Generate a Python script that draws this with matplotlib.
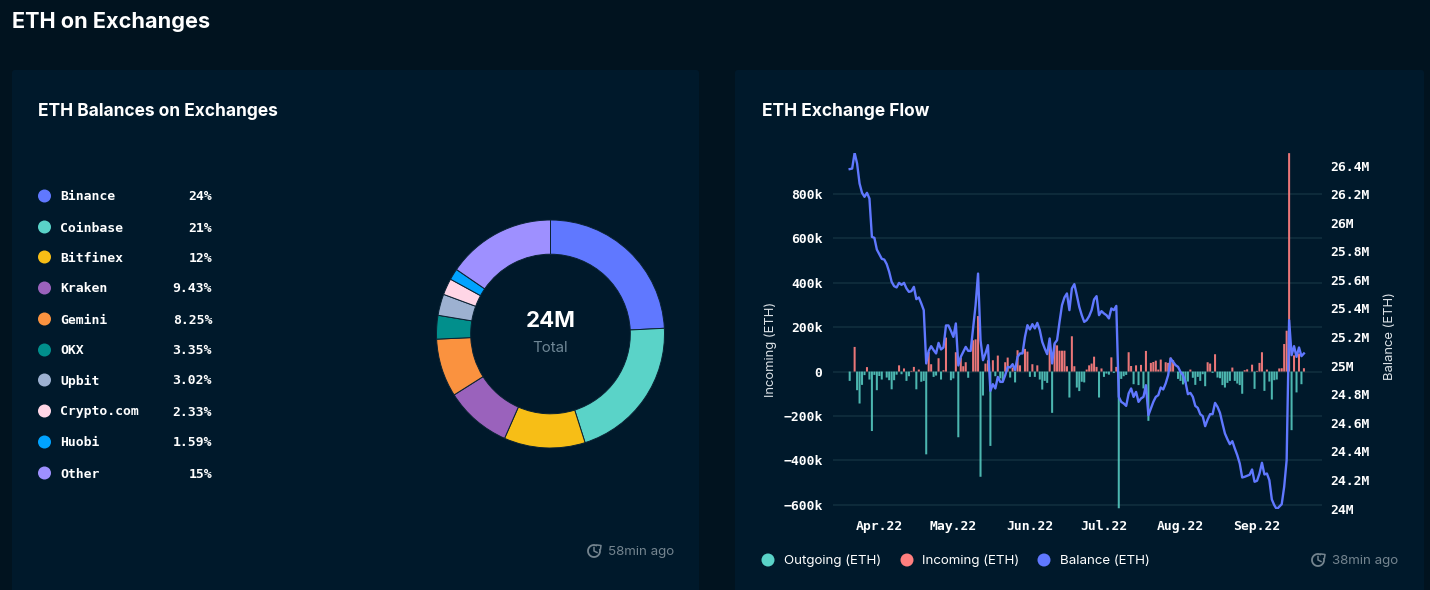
import numpy as np
import pandas as pd
import matplotlib
matplotlib.use("Agg")
import matplotlib.pyplot as plt
import matplotlib.dates as mdates
from matplotlib.patches import FancyBboxPatch, Arc, Circle

# ---------- data ----------
exchanges = ["Binance", "Coinbase", "Bitfinex", "Kraken", "Gemini", "OKX", "Upbit", "Crypto.com", "Huobi", "Other"]
shares = [24.2, 20.9, 11.5, 9.43, 8.25, 3.35, 3.02, 2.33, 1.59, 15.43]
share_labels = ["24%", "21%", "12%", "9.43%", "8.25%", "3.35%", "3.02%", "2.33%", "1.59%", "15%"]
share_colors = ["#6078FF", "#5AD3C8", "#F7BE16", "#9A62BC", "#FA923F", "#018F8C", "#9DB1D1", "#FFD6E6", "#00A3FF", "#9E90FF"]

balance = [
    26.375, 26.379, 26.489, 26.414, 26.274, 26.209, 26.181, 26.209, 26.169, 25.901,
    25.894, 25.812, 25.780, 25.747, 25.742, 25.710, 25.656, 25.586, 25.556, 25.547,
    25.579, 25.565, 25.579, 25.540, 25.516, 25.521, 25.551, 25.465, 25.477, 25.435,
    25.388, 25.015, 25.103, 25.136, 25.108, 25.085, 25.159, 25.113, 25.127, 25.281,
    25.281, 25.243, 25.201, 25.295, 25.001, 25.061, 25.096, 25.131, 25.103, 25.103,
    25.260, 25.423, 25.644, 25.178, 25.038, 25.085, 25.143, 24.823, 24.870, 24.840,
    24.921, 24.886, 24.886, 24.933, 24.991, 24.987, 25.010, 24.968, 25.061, 25.085,
    25.085, 25.201, 25.283, 25.253, 25.290, 25.260, 25.299, 25.248, 25.166, 25.120,
    25.080, 25.190, 25.015, 25.155, 25.178, 25.306, 25.423, 25.477, 25.505, 25.388,
    25.540, 25.570, 25.493, 25.411, 25.353, 25.306, 25.318, 25.346, 25.388, 25.463,
    25.486, 25.353, 25.381, 25.365, 25.353, 25.330, 25.400, 25.388, 25.418, 24.781,
    24.746, 24.735, 24.718, 24.805, 24.840, 24.781, 24.816, 24.746, 24.770, 24.781,
    24.863, 24.653, 24.700, 24.746, 24.781, 24.793, 24.847, 24.833, 24.875, 24.933,
    25.050, 25.026, 25.003, 24.991, 24.956, 24.933, 24.886, 24.800, 24.809, 24.781,
    24.718, 24.704, 24.660, 24.646, 24.576, 24.623, 24.660, 24.660, 24.739, 24.711,
    24.669, 24.595, 24.525, 24.485, 24.450, 24.471, 24.420, 24.373, 24.315, 24.217,
    24.222, 24.229, 24.236, 24.273, 24.187, 24.194, 24.245, 24.320, 24.238, 24.245,
    24.198, 24.063, 24.023, 23.995, 24.012, 24.030, 24.152, 24.338, 25.318, 25.073,
    25.136, 25.061, 25.127, 25.066, 25.085,
]

incoming_days = [2, 7, 20, 22, 25, 26, 28, 32, 33, 36, 38, 39, 43, 45, 46, 47, 50, 51, 52, 55, 56, 58, 60, 63, 64,
                 66, 68, 69, 71, 72, 74, 76, 81, 83, 84, 85, 86, 87, 88, 90, 91, 96, 97, 98, 99, 100, 102, 106, 108,
                 113, 114, 116, 118, 120, 122, 123, 124, 125, 126, 128, 129, 130, 131, 138, 145, 146, 148, 155, 160,
                 161, 163, 165, 166, 167, 169, 174, 175, 176, 177, 178, 180, 182, 184]
incoming_k = [111, 20, 28, 14, 3, 21, 9, 88, 33, 60, 6, 153, 87, 63, 24, 42, 141, 145, 250, 36, 51, 51, 72, 42, 63,
              18, 96, 28, 102, 90, 33, 28, 118, 123, 118, 94, 94, 94, 24, 159, 24, 9, 28, 36, 67, 21, 14, 64, 21,
              87, 25, 28, 30, 93, 39, 43, 49, 9, 54, 42, 39, 63, 51, 9, 42, 36, 78, 18, 6,
              10, 31, 3, 39, 87, 9, 14, 15, 124, 184, 984, 73, 81, 15]

outgoing_days = [0, 3, 4, 5, 6, 8, 9, 10, 11, 12, 13, 15, 16, 17, 18, 19, 21, 23, 24, 27, 29, 30, 31, 34, 35, 37, 41,
                 42, 44, 48, 53, 54, 57, 59, 61, 62, 65, 67, 73, 75, 77, 78, 79, 80, 82, 89, 92, 93, 94, 95, 101, 103,
                 104, 105, 107, 109, 110, 111, 112, 115, 117, 119, 121, 133, 134, 135, 136, 137, 139, 140, 141, 142,
                 143, 144, 147, 149, 150, 151, 152, 153, 154, 156, 157, 158, 159, 164, 168, 170, 171, 172, 173, 179,
                 181, 183]
outgoing_k = [42, 84, 144, 60, 16, 36, 268, 15, 84, 20, 36, 27, 39, 80, 39, 14, 12, 42, 21, 80, 46, 42, 373, 24, 18, 36, 39,
              31, 296, 28, 474, 108, 335, 21, 31, 45, 27, 49, 24, 24, 36, 81, 42, 51, 186, 117, 72, 88, 46, 49, 117, 24,
              9, 14, 6, 616, 33, 21, 15, 57, 61, 76, 222, 33, 42, 58, 51, 45, 28, 60, 24, 42,
              12, 66, 6, 27, 30, 61, 72, 51, 42, 42, 54, 61, 100, 78, 87, 45, 126, 39, 36, 264,
              94, 57]

days = pd.date_range("2022-03-20", periods=len(balance), freq="D")
left_ticks = [-600, -400, -200, 0, 200, 400, 600, 800]
left_labels = ["\u2212600k", "\u2212400k", "\u2212200k", "0", "200k", "400k", "600k", "800k"]
right_ticks = [24, 24.2, 24.4, 24.6, 24.8, 25, 25.2, 25.4, 25.6, 25.8, 26, 26.2, 26.4]
right_labels = ["24M", "24.2M", "24.4M", "24.6M", "24.8M", "25M", "25.2M", "25.4M", "25.6M", "25.8M", "26M", "26.2M", "26.4M"]
month_ticks = pd.to_datetime(["2022-04-01", "2022-05-01", "2022-06-01", "2022-07-01", "2022-08-01", "2022-09-01"])

# ---------- style ----------
W, H = 1430, 590
PAGE = "#01131F"
CARD = "#00192B"
GRID = "#11303F"
MUTED = "#74848F"
SANS = ["Inter", "DejaVu Sans"]
MONO = ["DejaVu Sans Mono"]
OUT_C, IN_C, BAL_C = "#5AD3C8", "#FF7F7F", "#6078FF"


def px_axes(fig, x0, y0, x1, y1, **kw):
    return fig.add_axes([x0 / W, 1 - y1 / H, (x1 - x0) / W, (y1 - y0) / H], **kw)


fig = plt.figure(figsize=(W / 100, H / 100), dpi=100, facecolor=PAGE)

# overlay in pixel coordinates
bg = fig.add_axes([0, 0, 1, 1], zorder=0)
bg.set_xlim(0, W)
bg.set_ylim(H, 0)
bg.axis("off")
for x0, x1 in [(12, 699), (735, 1424)]:
    bg.add_patch(FancyBboxPatch((x0, 70), x1 - x0, 530, boxstyle="round,pad=0,rounding_size=3",
                                mutation_aspect=1, fc=CARD, ec="none", lw=0))

bg.text(12, 21.5, "ETH on Exchanges", color="white", fontsize=15.6, fontweight="bold", family=SANS, va="center")
bg.text(38, 112, "ETH Balances on Exchanges", color="white", fontsize=12.5, fontweight="bold", family=SANS, va="center")
bg.text(762, 112, "ETH Exchange Flow", color="white", fontsize=12.5, fontweight="bold", family=SANS, va="center")

# left legend
row_y = [196, 227, 257, 288, 319, 350, 380, 411, 442, 473]
for y, name, lab, c in zip(row_y, exchanges, share_labels, share_colors):
    bg.add_patch(Circle((44.5, y), 6.5, fc=c, ec="none"))
    bg.text(60, y + 1, name, color="white", fontsize=9.45, fontweight="bold", family=MONO, va="center")
    bg.text(212, y + 1, lab, color="white", fontsize=9.45, fontweight="bold", family=MONO, va="center", ha="right")


def clock(x, y):
    bg.add_patch(Arc((x, y), 12, 12, theta1=-20, theta2=300, color=MUTED, lw=1.3))
    bg.plot([x, x, x + 3], [y - 3.5, y, y + 1.5], color=MUTED, lw=1.1)
    bg.plot([x + 3, x + 7, x + 6.5], [y - 6, y - 5.5, y - 2], color=MUTED, lw=1.1)


clock(594, 551)
bg.text(608, 552, "58min ago", color=MUTED, fontsize=9.6, family=SANS, va="center")
clock(1318, 560)
bg.text(1332, 561, "38min ago", color=MUTED, fontsize=9.6, family=SANS, va="center")

# bottom legend
for cx, tx, lab, c in [(768, 784, "Outgoing (ETH)", OUT_C), (907, 922, "Incoming (ETH)", IN_C), (1044, 1060, "Balance (ETH)", BAL_C)]:
    bg.add_patch(Circle((cx, 560), 6.5, fc=c, ec="none"))
    bg.text(tx, 561, lab, color="white", fontsize=9.6, family=SANS, va="center")

# axis titles
bg.text(770.5, 349.5, "Incoming (ETH)", color="#DDE3E8", fontsize=9.4, family=SANS, rotation=90, ha="center", va="center")
bg.text(1390, 336.5, "Balance (ETH)", color="#DDE3E8", fontsize=9.4, family=SANS, rotation=90, ha="center", va="center")

# donut
dax = px_axes(fig, 436.5, 220, 664.5, 448, zorder=1)
dax.pie(shares, colors=share_colors, startangle=90, counterclock=False, radius=1,
        wedgeprops=dict(width=0.30, edgecolor="#0A2233", linewidth=0.7))
dax.set_xlim(-1, 1)
dax.set_ylim(-1, 1)
dax.set_aspect("equal")
dax.text(0, 0.115, "24M", color="white", fontsize=16, fontweight="bold", family=SANS, ha="center", va="center")
dax.text(0, -0.12, "Total", color="#6F8796", fontsize=10.8, family=SANS, ha="center", va="center")

# flow chart
AX_L, AX_R, AX_T, AX_B = 833, 1321.7, 152.7, 508.5
ax = px_axes(fig, AX_L, AX_T, AX_R, AX_B, zorder=2)
ax.patch.set_alpha(0)
for bars in (ax.bar(days[outgoing_days], -np.array(outgoing_k), width=0.82, color=OUT_C, alpha=0.85, lw=0, zorder=3),
             ax.bar(days[incoming_days], incoming_k, width=0.82, color=IN_C, alpha=0.92, lw=0, zorder=3)):
    for b in bars:
        b.set_snap(False)
ax.set_ylim(-617, 986)
d0 = mdates.date2num(days[0])
ax.set_xlim(d0 - 6.76, d0 + 191.2)
ax.set_yticks(left_ticks, left_labels)
ax.set_xticks(month_ticks)
ax.xaxis.set_major_formatter(mdates.DateFormatter("%b.%y"))
ax.grid(axis="y", color=GRID, lw=1.1, zorder=1)
ax.grid(axis="x", visible=False)
ax.set_axisbelow(True)
for s in ax.spines.values():
    s.set_visible(False)
ax.tick_params(axis="y", length=0, pad=7.5, labelcolor="white")
ax.tick_params(axis="x", length=0, pad=8, labelcolor="white")

ax2 = ax.twinx()
ax2.plot(days, balance, color=BAL_C, lw=1.7, solid_joinstyle="round", zorder=4)
ax2.set_ylim(24 - (AX_B - 508.5) / 142.9, 24 + (AX_B - AX_T) / 142.9)
ax2.set_yticks(right_ticks, right_labels)
for s in ax2.spines.values():
    s.set_visible(False)
ax2.tick_params(axis="y", length=0, pad=6.5, labelcolor="white")

for lab in ax.get_xticklabels() + ax.get_yticklabels() + ax2.get_yticklabels():
    lab.set_fontfamily(MONO)
    lab.set_fontsize(9.45)
    lab.set_fontweight("bold")

fig.savefig("out.png", dpi=100, facecolor=PAGE)
